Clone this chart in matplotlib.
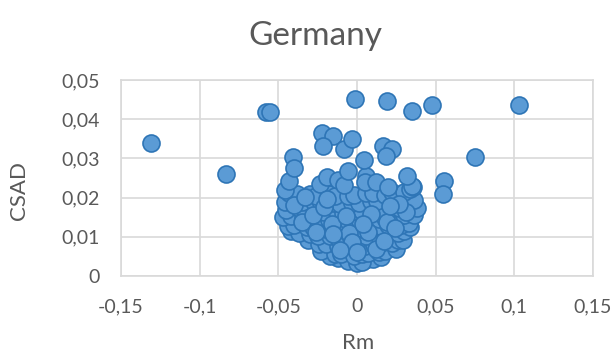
import numpy as np
import matplotlib.pyplot as plt
from matplotlib.ticker import FuncFormatter

# market return (Rm) vs cross-sectional absolute deviation (CSAD)
# outlying days
rm_out = [-0.1310, -0.0832, -0.0578, -0.0552, -0.0015, 0.0188, 0.0352, 0.0474,
          0.1030, 0.0752, 0.0550, 0.0545,
          -0.0220, -0.0150, -0.0216, -0.0080, -0.0034, 0.0168, 0.0220, 0.0182,
          0.0042, -0.0055, 0.0315, -0.0408, -0.0399]
csad_out = [0.0340, 0.0261, 0.0419, 0.0419, 0.0452, 0.0447, 0.0421, 0.0437,
            0.0437, 0.0304, 0.0243, 0.0210,
            0.0365, 0.0356, 0.0331, 0.0325, 0.0349, 0.0331, 0.0324, 0.0307,
            0.0296, 0.0269, 0.0254, 0.0304, 0.0276]

# main body of days, bottom rows first
rm_main = [
    -0.012, -0.006, 0.000, 0.005, 0.010, 0.015, -0.017, 0.003,
    -0.023, -0.014, -0.010, -0.002, 0.003, 0.007, 0.014, 0.018, 0.025,
    -0.031, -0.024, -0.020, -0.012, -0.008, 0.000, 0.005, 0.011, 0.015, 0.022, 0.026, 0.029,
    -0.042, -0.037, -0.030, -0.025, -0.017, -0.012, -0.004, 0.002, 0.006, 0.014, 0.018, 0.026, 0.030, 0.034,
    -0.044, -0.040, -0.032, -0.028, -0.020, -0.016, -0.008, -0.004, 0.004, 0.008, 0.016, 0.020, 0.028, 0.033,
    -0.047, -0.042, -0.034, -0.030, -0.022, -0.018, -0.010, -0.006, 0.002, 0.006, 0.014, 0.018, 0.026, 0.030, 0.036,
    -0.045, -0.037, -0.033, -0.025, -0.021, -0.013, -0.009, -0.001, 0.003, 0.011, 0.015, 0.023, 0.027, 0.035, 0.038,
    -0.046, -0.039, -0.035, -0.027, -0.023, -0.015, -0.011, -0.003, 0.001, 0.009, 0.013, 0.021, 0.025, 0.033, 0.036,
    -0.043, -0.038, -0.030, -0.026, -0.018, -0.014, -0.006, -0.002, 0.006, 0.010, 0.018, 0.022, 0.030, 0.034,
    -0.046, -0.0433, -0.0238, -0.019, -0.0122, 0.0058, 0.0048, 0.0121, 0.020, 0.0354, -0.008, 0.035,
    -0.035, -0.028, -0.016, -0.005, 0.007, 0.019, 0.031, -0.040, -0.021, -0.007, 0.009, 0.024,
    -0.033, -0.019, -0.003, 0.012, 0.027, -0.026, -0.011, 0.004, 0.017, -0.015, 0.000, 0.021,
]
csad_main = [
    0.0045, 0.0039, 0.0033, 0.0041, 0.0044, 0.0049, 0.0051, 0.0036,
    0.0064, 0.0057, 0.0056, 0.0050, 0.0057, 0.0059, 0.0060, 0.0065, 0.0068,
    0.0091, 0.0082, 0.0081, 0.0077, 0.0076, 0.0072, 0.0077, 0.0078, 0.0083, 0.0084, 0.0091, 0.0093,
    0.0115, 0.0109, 0.0107, 0.0102, 0.0101, 0.0097, 0.0097, 0.0096, 0.0101, 0.0101, 0.0107, 0.0109, 0.0115, 0.0125,
    0.0127, 0.0131, 0.0126, 0.0125, 0.0121, 0.0121, 0.0117, 0.0120, 0.0119, 0.0123, 0.0124, 0.0129, 0.0130, 0.0135,
    0.0151, 0.0153, 0.0147, 0.0147, 0.0143, 0.0143, 0.0140, 0.0141, 0.0141, 0.0145, 0.0145, 0.0149, 0.0150, 0.0155, 0.0156,
    0.0169, 0.0173, 0.0167, 0.0167, 0.0163, 0.0164, 0.0161, 0.0165, 0.0165, 0.0169, 0.0169, 0.0173, 0.0174, 0.0179, 0.0174,
    0.0189, 0.0193, 0.0189, 0.0188, 0.0185, 0.0186, 0.0183, 0.0187, 0.0187, 0.0191, 0.0191, 0.0195, 0.0196, 0.0201, 0.0194,
    0.0213, 0.0209, 0.0208, 0.0205, 0.0209, 0.0204, 0.0205, 0.0206, 0.0211, 0.0211, 0.0207, 0.0215, 0.0215, 0.0221,
    0.0220, 0.0242, 0.0235, 0.0252, 0.0245, 0.0256, 0.0239, 0.0239, 0.0228, 0.0228, 0.0232, 0.0230,
    0.0138, 0.0156, 0.0132, 0.0110, 0.0113, 0.0139, 0.0163, 0.0180, 0.0175, 0.0152, 0.0158, 0.0122,
    0.0201, 0.0196, 0.0088, 0.0070, 0.0183, 0.0112, 0.0066, 0.0132, 0.0089, 0.0107, 0.0061, 0.0178,
]

rm = np.array(rm_main + rm_out)
csad = np.array(csad_main + csad_out)

plt.rcParams['font.family'] = ['Lato', 'DejaVu Sans']
text_col = '#595959'
grid_col = '#D9D9D9'

fig = plt.figure(figsize=(6.14, 3.58), dpi=100)
ax = fig.add_axes([0.197, 0.229, 0.7688, 0.5475])

ax.scatter(rm, csad, s=150, color='#5B9BD5', edgecolor='#2E75B6',
           linewidth=1.2, zorder=3, clip_on=False)

ax.set_xlim(-0.15, 0.15)
ax.set_ylim(0, 0.05)
ax.set_xticks(np.arange(-0.15, 0.151, 0.05))
ax.set_yticks(np.arange(0, 0.051, 0.01))

def comma(v, pos):
    s = ('%.2f' % v).rstrip('0').rstrip('.')
    if s in ('-0', ''):
        s = '0'
    return s.replace('.', ',')

ax.xaxis.set_major_formatter(FuncFormatter(comma))
ax.yaxis.set_major_formatter(FuncFormatter(comma))

ax.grid(True, color=grid_col, linewidth=1.2, zorder=0)
ax.set_axisbelow(True)
for sp in ax.spines.values():
    sp.set_color(grid_col)
    sp.set_linewidth(1.2)
ax.tick_params(length=0, labelsize=14, colors=text_col)
ax.tick_params(axis='x', pad=16)
ax.tick_params(axis='y', pad=15)

fig.text(0.513, 0.90, 'Germany', fontsize=24, color=text_col,
         ha='center', va='center')
fig.text(358 / 614, 1 - 343 / 358, 'Rm', fontsize=16, color=text_col,
         ha='center', va='center')
fig.text(19 / 614, 1 - 190 / 358, 'CSAD', fontsize=16, color=text_col,
         ha='center', va='center', rotation=90)

fig.savefig('out.png', dpi=100)
